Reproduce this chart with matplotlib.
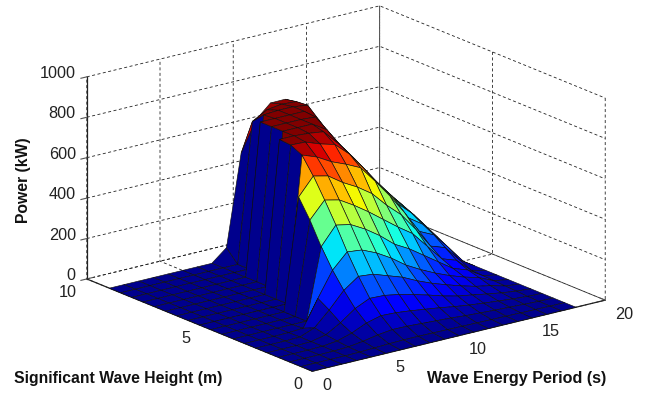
import numpy as np
import matplotlib
matplotlib.use("Agg")
import matplotlib.pyplot as plt

plt.rcParams['font.family'] = ['Liberation Sans', 'DejaVu Sans']
plt.rcParams['grid.linestyle'] = (0, (3.6, 3))
plt.rcParams['grid.linewidth'] = 0.6
plt.rcParams['grid.color'] = '#222222'

# Wave energy period (s) and significant wave height (m)
periods = np.arange(0, 19)
heights = np.arange(0, 19) * 0.5

# Power (kW) at each period, one value per wave height
p_t0 = [0] * 19
p_t1 = [0] * 19
p_t2 = [0] * 19
p_t3 = [0, 0, 1, 2, 2, 2, 1, 0, 0, 0, 0, 0, 0, 0, 0, 0, 0, 0, 0]
p_t4 = [0, 1, 4, 10, 18, 30, 5, 0, 0, 0, 0, 0, 0, 0, 0, 0, 0, 0, 0]
p_t5 = [0, 4, 14, 32, 60, 100, 135, 0, 0, 0, 0, 0, 0, 0, 0, 0, 0, 0, 0]
p_t6 = [0, 7, 28, 64, 113, 180, 257, 351, 460, 551, 0, 0, 0, 0, 0, 0, 0, 0, 0]
p_t7 = [0, 9, 37, 83, 146, 232, 330, 440, 541, 637, 718, 745, 750, 0, 0, 0, 0, 0, 0]
p_t8 = [0, 9, 36, 80, 143, 225, 322, 425, 524, 620, 691, 742, 750, 750, 750, 750, 0, 0, 60]
p_t9 = [0, 8, 32, 72, 130, 200, 290, 385, 480, 570, 650, 715, 745, 750, 750, 750, 745, 690, 510]
p_t10 = [0, 7, 28, 62, 112, 175, 247, 335, 430, 530, 620, 695, 735, 750, 750, 750, 750, 730, 656]
p_t11 = [0, 6, 24, 52, 92, 140, 195, 275, 375, 480, 585, 630, 660, 705, 745, 750, 750, 740, 723]
p_t12 = [0, 5, 18, 40, 70, 110, 155, 235, 320, 405, 500, 540, 575, 605, 635, 690, 740, 735, 724]
p_t13 = [0, 4, 14, 30, 52, 85, 120, 185, 270, 340, 410, 445, 475, 510, 545, 580, 610, 650, 688]
p_t14 = [0, 3, 10, 22, 40, 62, 90, 135, 190, 250, 310, 360, 385, 420, 455, 490, 525, 565, 608]
p_t15 = [0, 2, 7, 15, 27, 42, 65, 85, 110, 150, 200, 245, 295, 330, 365, 395, 430, 460, 490]
p_t16 = [0, 1, 4, 8, 15, 28, 45, 60, 85, 125, 165, 195, 228, 250, 278, 310, 345, 380, 412]
p_t17 = [0, 0, 1, 3, 6, 9, 12, 15, 18, 45, 85, 115, 145, 175, 200, 225, 250, 285, 318]
p_t18 = [0] * 19

power = np.array([p_t0, p_t1, p_t2, p_t3, p_t4, p_t5, p_t6, p_t7, p_t8, p_t9,
                  p_t10, p_t11, p_t12, p_t13, p_t14, p_t15, p_t16, p_t17, p_t18], dtype=float)

x_ticks = [0, 5, 10, 15, 20]
y_ticks = [0, 5, 10]
z_ticks = [0, 200, 400, 600, 800, 1000]

T, H = np.meshgrid(periods, heights, indexing='ij')

fig = plt.figure(figsize=(6.56, 3.94), dpi=100)
side = 548
ax = fig.add_axes([64.6 / 656, -75.9 / 394, side / 656, side / 394], projection='3d', proj_type='ortho')
ax.set_box_aspect((1, 1, 0.576))
ax.view_init(elev=18.35, azim=-127.6)
ax.patch.set_alpha(0)

# faces take the colour of their first corner, like MATLAB surf
colors = plt.get_cmap('jet')(plt.Normalize(-10, 750)(power))
ax.plot_surface(T, H, power, facecolors=colors, edgecolor='#101010', linewidth=0.45,
                rstride=1, cstride=1, shade=False, antialiased=True)

ax.set_xlim(0, 20)
ax.set_ylim(0, 10)
ax.set_zlim(0, 1000)
ax.set_xticks(x_ticks)
ax.set_yticks(y_ticks)
ax.set_zticks(z_ticks)

for axis in (ax.xaxis, ax.yaxis, ax.zaxis):
    axis.pane.set_facecolor((1, 1, 1, 0))
    axis.pane.set_edgecolor((1, 1, 1, 0))
    axis.line.set_color('#222222')
    axis.line.set_linewidth(0.9)
    axis._axinfo['tick']['inward_factor'] = 0.0
    axis._axinfo['tick']['outward_factor'] = 0.25
    axis.set_tick_params(colors='#555555', width=0.7)
    # the labels are drawn by hand below
    for lab in axis.get_ticklabels():
        lab.set_visible(False)
    axis.label.set_visible(False)
    axis.get_offset_text().set_visible(False)

ax.zaxis.set_ticks_position('upper')
ax.zaxis._axinfo['tick']['outward_factor'] = -0.25

# tick labels sit beside the box, as in the MATLAB axes
for t in x_ticks:
    ax.text(t, -0.444, -49, str(t), fontsize=11.7, ha='left', va='center', color='#222222')
for h in y_ticks:
    ax.text(-0.66, h, -55, str(h), fontsize=11.7, ha='right', va='center', color='#222222')
for p in z_ticks:
    ax.text(-0.75, 10, p + 30, str(p), fontsize=11.7, ha='right', va='center', color='#222222')

fig.text(14 / 656, 1 - 378 / 394, 'Significant Wave Height (m)', fontsize=11.3, fontweight='bold', va='center', color='#111111')
fig.text(427 / 656, 1 - 378 / 394, 'Wave Energy Period (s)', fontsize=11.6, fontweight='bold', va='center', color='#111111')
fig.text(24 / 656, 1 - 180 / 394, 'Power (kW)', fontsize=11.3, fontweight='bold', rotation=90, va='center', ha='center', color='#111111')

fig.savefig('out.png', dpi=100)
